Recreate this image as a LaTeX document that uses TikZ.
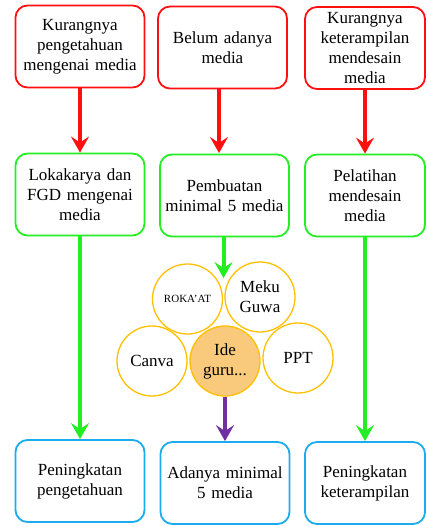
\documentclass[tikz,border=0pt]{standalone}
\usepackage{fontspec}
\setmainfont{Liberation Serif}
\usetikzlibrary{arrows.meta}
\definecolor{cred}{HTML}{FF1010}
\definecolor{cgreen}{HTML}{22EE22}
\definecolor{cblue}{HTML}{1AACEE}
\definecolor{cpurple}{HTML}{7030A0}
\definecolor{corange}{HTML}{FFC000}
\definecolor{cfill}{HTML}{F9C97C}
\begin{document}
\begin{tikzpicture}[x=1pt,y=-1pt,
  box/.style={draw=#1,line width=1.8pt,rounded corners=12pt,minimum width=129pt,minimum height=82pt,
    align=center,text width=125pt,inner sep=0pt,font=\fontsize{17}{20}\selectfont},
  boxr/.style={box=#1,minimum width=120pt,text width=118pt},
  bub/.style={circle,draw=corange,line width=1.3pt,minimum size=70pt,inner sep=0pt,align=center,
    font=\fontsize{17}{20}\selectfont},
  arr/.style={draw=#1,line width=4pt,-{Stealth[length=16pt,width=18pt,inset=6pt]}}
]
\useasboundingbox (0,0) rectangle (426,526);
% top row
\node[box=cred] (t1) at (80,46.5) {Kurangnya\\pengetahuan\\mengenai media};
\node[box=cred] (t2) at (222.5,47.5) {Belum adanya\\media};
\node[boxr=cred] (t3) at (365,48) {Kurangnya\\keterampilan\\mendesain\\media};
% middle row
\node[box=cgreen] (g1) at (80,194.5) {Lokakarya dan\\FGD mengenai\\media};
\node[box=cgreen] (g2) at (224.5,195.5) {Pembuatan\\minimal 5 media};
\node[boxr=cgreen] (g3) at (365,195.5) {Pelatihan\\mendesain\\media};
% bottom row
\node[box=cblue] (b1) at (80,481) {Peningkatan\\pengetahuan};
\node[box=cblue] (b2) at (225,483) {Adanya minimal\\5 media};
\node[boxr=cblue] (b3) at (365,483) {Peningkatan\\keterampilan};
% bubbles
\node[bub,font=\fontsize{11}{13}\selectfont] (rk) at (187.5,299) {ROKA’AT};
\node[bub] (mg) at (260,297) {Meku\\Guwa};
\node[bub] (cv) at (152,361) {Canva};
\node[bub,fill=cfill] (ig) at (225,361) {Ide\\guru...};
\node[bub] (pp) at (298,358) {PPT};
\coordinate (cj) at (223.5,278);
% arrows
\draw[arr=cred] (t1.south) -- (g1.north);
\draw[arr=cred] (t2.south -| 219,0) -- (219,153);
\draw[arr=cred] (t3.south) -- (g3.north);
\draw[arr=cgreen] (g1.south) -- (b1.north);
\draw[arr=cgreen] (g3.south) -- (b3.north);
\draw[arr=cgreen] (g2.south -| cj) -- (cj);
\draw[arr=cpurple] (ig.south) -- (ig.south |- b2.north);
\end{tikzpicture}
\end{document}
